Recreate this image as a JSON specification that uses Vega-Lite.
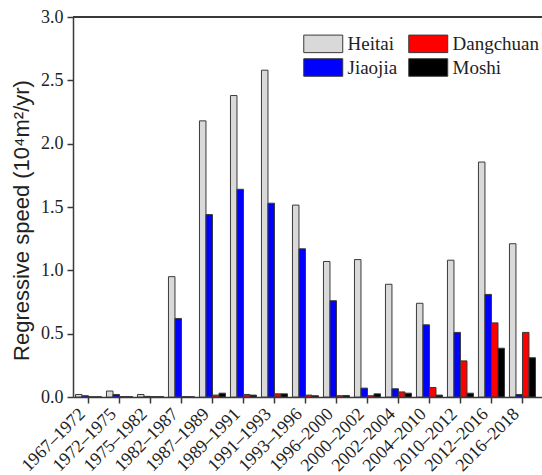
{
  "$schema": "https://vega.github.io/schema/vega-lite/v6.json",
  "autosize": {"type": "none"},
  "width": 469,
  "height": 380,
  "padding": {"left": 73, "top": 17, "right": 0, "bottom": 78},
  "background": "white",
  "config": {
    "view": {"stroke": null},
    "axis": {"domainColor": "#3a3a3a", "domainWidth": 1.5, "tickColor": "#3a3a3a", "tickWidth": 1.5, "tickSize": 6, "labelColor": "#222", "labelFont": "Liberation Serif", "labelFontSize": 18, "grid": false, "titleColor": "#222"}
  },
  "data": {"values": [
    {"period": "1967–1972", "site": "Heitai", "value": 0.02},
    {"period": "1972–1975", "site": "Heitai", "value": 0.047},
    {"period": "1975–1982", "site": "Heitai", "value": 0.02},
    {"period": "1982–1987", "site": "Heitai", "value": 0.95},
    {"period": "1987–1989", "site": "Heitai", "value": 2.18},
    {"period": "1989–1991", "site": "Heitai", "value": 2.38},
    {"period": "1991–1993", "site": "Heitai", "value": 2.58},
    {"period": "1993–1996", "site": "Heitai", "value": 1.515},
    {"period": "1996–2000", "site": "Heitai", "value": 1.07},
    {"period": "2000–2002", "site": "Heitai", "value": 1.085},
    {"period": "2002–2004", "site": "Heitai", "value": 0.89},
    {"period": "2004–2010", "site": "Heitai", "value": 0.74},
    {"period": "2010–2012", "site": "Heitai", "value": 1.08},
    {"period": "2012–2016", "site": "Heitai", "value": 1.855},
    {"period": "2016–2018", "site": "Heitai", "value": 1.21},
    {"period": "1967–1972", "site": "Jiaojia", "value": 0.01},
    {"period": "1972–1975", "site": "Jiaojia", "value": 0.02},
    {"period": "1975–1982", "site": "Jiaojia", "value": 0.005},
    {"period": "1982–1987", "site": "Jiaojia", "value": 0.62},
    {"period": "1987–1989", "site": "Jiaojia", "value": 1.44},
    {"period": "1989–1991", "site": "Jiaojia", "value": 1.64},
    {"period": "1991–1993", "site": "Jiaojia", "value": 1.53},
    {"period": "1993–1996", "site": "Jiaojia", "value": 1.17},
    {"period": "1996–2000", "site": "Jiaojia", "value": 0.76},
    {"period": "2000–2002", "site": "Jiaojia", "value": 0.07},
    {"period": "2002–2004", "site": "Jiaojia", "value": 0.065},
    {"period": "2004–2010", "site": "Jiaojia", "value": 0.57},
    {"period": "2010–2012", "site": "Jiaojia", "value": 0.51},
    {"period": "2012–2016", "site": "Jiaojia", "value": 0.81},
    {"period": "2016–2018", "site": "Jiaojia", "value": 0.02},
    {"period": "1967–1972", "site": "Dangchuan", "value": 0.002},
    {"period": "1972–1975", "site": "Dangchuan", "value": 0.003},
    {"period": "1975–1982", "site": "Dangchuan", "value": 0.003},
    {"period": "1982–1987", "site": "Dangchuan", "value": 0.003},
    {"period": "1987–1989", "site": "Dangchuan", "value": 0.015},
    {"period": "1989–1991", "site": "Dangchuan", "value": 0.02},
    {"period": "1991–1993", "site": "Dangchuan", "value": 0.025},
    {"period": "1993–1996", "site": "Dangchuan", "value": 0.015},
    {"period": "1996–2000", "site": "Dangchuan", "value": 0.01},
    {"period": "2000–2002", "site": "Dangchuan", "value": 0.01},
    {"period": "2002–2004", "site": "Dangchuan", "value": 0.04},
    {"period": "2004–2010", "site": "Dangchuan", "value": 0.075},
    {"period": "2010–2012", "site": "Dangchuan", "value": 0.285},
    {"period": "2012–2016", "site": "Dangchuan", "value": 0.585},
    {"period": "2016–2018", "site": "Dangchuan", "value": 0.51},
    {"period": "1967–1972", "site": "Moshi", "value": 0.002},
    {"period": "1972–1975", "site": "Moshi", "value": 0.003},
    {"period": "1975–1982", "site": "Moshi", "value": 0.003},
    {"period": "1982–1987", "site": "Moshi", "value": 0.002},
    {"period": "1987–1989", "site": "Moshi", "value": 0.03},
    {"period": "1989–1991", "site": "Moshi", "value": 0.015},
    {"period": "1991–1993", "site": "Moshi", "value": 0.025},
    {"period": "1993–1996", "site": "Moshi", "value": 0.01},
    {"period": "1996–2000", "site": "Moshi", "value": 0.012},
    {"period": "2000–2002", "site": "Moshi", "value": 0.025},
    {"period": "2002–2004", "site": "Moshi", "value": 0.03},
    {"period": "2004–2010", "site": "Moshi", "value": 0.015},
    {"period": "2010–2012", "site": "Moshi", "value": 0.03},
    {"period": "2012–2016", "site": "Moshi", "value": 0.385},
    {"period": "2016–2018", "site": "Moshi", "value": 0.31}
  ]},
  "layer": [
    {
      "mark": {"type": "bar", "stroke": "#3a3a3a", "strokeWidth": 1},
      "encoding": {
        "x": {"field": "period", "type": "nominal", "sort": null,
              "scale": {"paddingInner": 0, "paddingOuter": 0.065, "align": 0},
              "axis": {"title": null, "labelAngle": -45, "labelAlign": "right", "labelBaseline": "middle", "labelPadding": 8, "labelOffset": -6}},
        "xOffset": {"field": "site", "type": "nominal",
                    "scale": {"domain": ["Heitai", "Jiaojia", "Dangchuan", "Moshi"], "paddingInner": 0, "paddingOuter": 0.38}},
        "y": {"field": "value", "type": "quantitative",
              "scale": {"domain": [0, 3], "nice": false},
              "axis": {"title": "Regressive speed (10⁴m²/yr)", "titleFont": "Liberation Sans", "titleFontSize": 22, "titleFontWeight": "normal", "titlePadding": 7, "titleY": 203, "values": [0, 0.5, 1, 1.5, 2, 2.5, 3], "format": ".1f", "labelPadding": 4}},
        "color": {"field": "site", "type": "nominal",
                  "scale": {"domain": ["Heitai", "Jiaojia", "Dangchuan", "Moshi"], "range": ["#d9d9d9", "#0000ff", "#ff0000", "#000000"]},
                  "legend": {"orient": "none", "legendX": 230, "legendY": 16, "columns": 2, "title": null, "padding": 0,
                             "symbolType": "M-1,-0.9L3,-0.9L3,0.9L-1,0.9Z", "symbolSize": 380, "symbolStrokeColor": "#3a3a3a", "symbolStrokeWidth": 1, "symbolOpacity": 1,
                             "labelFont": "Liberation Serif", "labelFontSize": 19, "labelColor": "#222", "labelOffset": 23.5, "rowPadding": 1, "columnPadding": 8}}
      }
    },
    {
      "mark": {"type": "rule", "color": "#3a3a3a", "strokeWidth": 1.5},
      "encoding": {"y": {"datum": 3}}
    }
  ]
}
